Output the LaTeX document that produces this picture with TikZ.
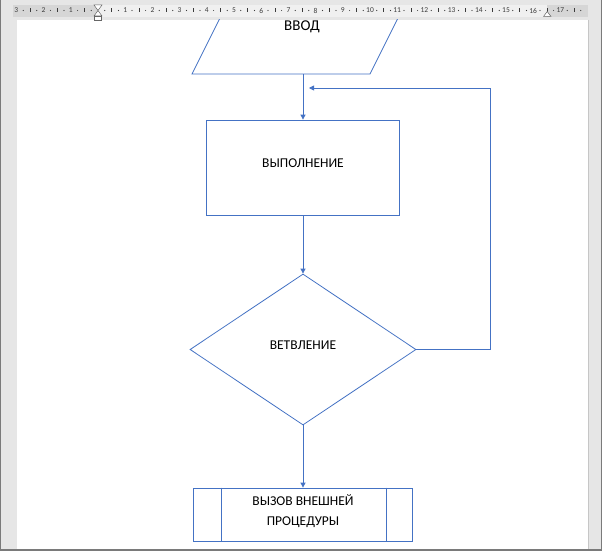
\documentclass[tikz,border=0pt]{standalone}
\usepackage{fontspec}
\setmainfont{Carlito}
\usetikzlibrary{arrows.meta,shapes.geometric}
\definecolor{lineblue}{HTML}{4472C4}
\definecolor{winbg}{HTML}{E6E6E6}
\definecolor{rulerdark}{HTML}{D6D6D6}
\definecolor{rulerlight}{HTML}{F0F0F0}
\definecolor{rulertext}{HTML}{3C3C3C}
\definecolor{frame}{HTML}{7A7A7A}
\tikzset{
  flow/.style={draw=lineblue, line width=0.8pt},
  arr/.style={flow, -{Triangle[length=5pt,width=5pt]}},
  box/.style={flow, rectangle, inner sep=0pt},
  lbl/.style={font=\fontsize{13.5}{16}\selectfont, text=black, inner sep=0pt, align=center},
  rnum/.style={font=\fontsize{7.5}{8}\selectfont, text=rulertext, inner sep=0pt},
  marker/.style={draw=gray!80!black, fill=white, line width=0.5pt}
}
\begin{document}
\begin{tikzpicture}[x=1pt,y=-1pt]
\useasboundingbox (0,0) rectangle (602,551);
% window background and page
\fill[winbg] (0,0) rectangle (602,551);
\fill[white] (17,20) rectangle (588,549);
\draw[gray!45, line width=1pt] (588.5,20) -- (588.5,549);
\fill[frame] (0,0) rectangle (1.3,551);
\fill[frame] (0,548.7) rectangle (602,551);
\fill[frame] (600.7,0) rectangle (602,551);
% ruler
\fill[rulerdark] (13,5) rectangle (588,17);
\fill[rulerlight] (98,5) rectangle (547,17);
\foreach \n in {1,2,3}{
  \node[rnum] (rl\n) at (98-27.2*\n,10.5) {\n};
}
\foreach \n in {1,...,17}{
  \node[rnum] (rr\n) at (98+27.2*\n,10.5) {\n};
}
\foreach \k in {-11,...,72}{
  \pgfmathtruncatemacro{\m}{mod(\k+100,4)}
  \ifnum\m=2
    \draw[rulertext, line width=0.6pt] (98+6.8*\k,8.5) -- (98+6.8*\k,12.5);
  \else\ifnum\m=0\else
    \fill[rulertext] (98+6.8*\k,10.5) circle (0.6pt);
  \fi\fi
}
% indent markers
\draw[marker] (94,5) -- (102,5) -- (98,10.5) -- cycle;
\draw[marker] (94,16) -- (102,16) -- (98,10.5) -- cycle;
\draw[marker] (94.5,16) rectangle (101.5,20);
\draw[marker] (543.5,16.5) -- (551,16.5) -- (547.2,11.5) -- cycle;
% diagram
\begin{scope}
\clip (17,20) rectangle (588,549);
\draw[flow] (192,74) -- (370,74) -- (417,-20) -- (239,-20) -- cycle;
\node[lbl, font=\fontsize{15}{18}\selectfont] (inT) at (302,27) {ВВОД};
\coordinate (inB) at (303,74);
\node[box, minimum width=193pt, minimum height=95pt] (exec) at (303,167.5) {};
\node[lbl] (execT) at ([yshift=4.5pt]exec.center) {ВЫПОЛНЕНИЕ};
\node[flow, diamond, inner sep=0pt, minimum width=226pt, minimum height=151pt] (br) at (303,349.5) {};
\node[lbl] (brT) at ([yshift=4pt]br.center) {ВЕТВЛЕНИЕ};
\node[box, minimum width=219pt, minimum height=53pt] (call) at (303,514.5) {};
\draw[flow] ([xshift=28pt]call.north west) -- ([xshift=28pt]call.south west);
\draw[flow] ([xshift=-27pt]call.north east) -- ([xshift=-27pt]call.south east);
\node[lbl, font=\fontsize{13.5}{20}\selectfont] (callT) at ([yshift=3.5pt]call.center) {ВЫЗОВ ВНЕШНЕЙ\\ПРОЦЕДУРЫ};
\coordinate (loopEnd) at (309,88);
\draw[arr] (inB) -- (exec.north);
\draw[arr] (exec.south) -- (br.north);
\draw[arr] (br.south) -- (call.north);
\draw[arr] (br.east) -- ++(74,0) |- (loopEnd);
\end{scope}
\end{tikzpicture}
\end{document}
